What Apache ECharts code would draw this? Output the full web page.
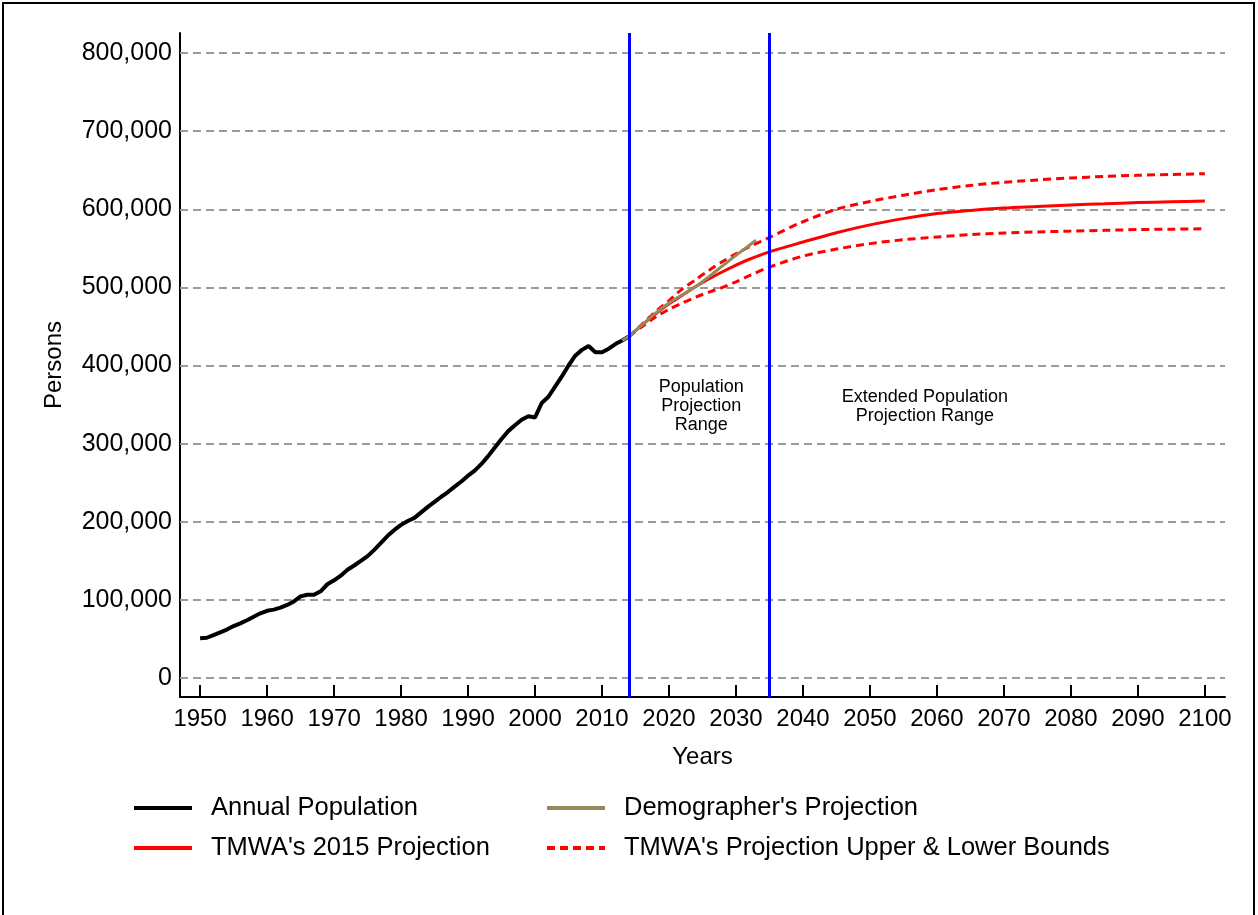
<!DOCTYPE html>
<html>
<head>
<meta charset="utf-8">
<script src="https://cdn.jsdelivr.net/npm/echarts@6/dist/echarts.min.js"></script>
<style>
  html, body { margin: 0; padding: 0; background: #fff; }
  #chart { width: 1258px; height: 915px; }
</style>
</head>
<body>
<div id="chart"></div>
<script>
// annual population, 1950 - 2014
const histYears = []
for (let y = 1950; y <= 2014; y++) histYears.push(y)
const histPop = [
  51000, 51500, 55000, 58500, 62000, 66500, 70000, 74000, 78500, 82800,
  86000, 87500, 90000, 93500, 98000, 104500, 106500, 106500, 111000, 120000,
  125000, 131000, 138500, 144000, 150000, 156000, 164000, 173000, 182000, 189500,
  196000, 201000, 205000, 212000, 219000, 225500, 232000, 238000, 245000, 251500,
  259000, 265500, 274000, 284000, 295000, 306000, 316000, 323500, 330500, 335000,
  333500, 352000, 360000, 373000, 386000, 400000, 412500, 420000, 425000, 417000,
  417000, 421500, 427500, 432000, 437000
]

// demographer's projection
const demoYears = [2013, 2014, 2016, 2018, 2020, 2022, 2024, 2026, 2028, 2030, 2032, 2033]
const demoPop = [432000, 437500, 452000, 467000, 480000, 490500, 501000, 514000, 527500, 541000, 554000, 560500]

// TMWA projection + bounds
const projYears = [2014, 2016, 2018, 2020, 2022, 2024, 2026, 2028, 2030, 2032, 2035, 2040, 2045,
  2050, 2055, 2060, 2065, 2070, 2075, 2080, 2085, 2090, 2095, 2100]
const tmwaPop = [437000, 452000, 466000, 479000, 490000, 501000, 511000, 520000, 528500, 536000,
  545500, 558000, 570000, 580000, 588000, 594500, 598500, 601500, 603500, 605500, 607000, 608500, 609500, 610500]
const upperPop = [437000, 453000, 469000, 483000, 498000, 510000, 522000, 533000, 543000, 552000,
  564000, 584000, 600000, 610000, 618000, 625000, 630500, 634500, 637500, 640000, 642000, 643500, 644500, 645500]
const lowerPop = [437000, 450000, 462000, 472000, 480000, 487500, 494000, 500000, 507000, 515000,
  526000, 540000, 549000, 556000, 561000, 564500, 567500, 569500, 571000, 572000, 573000, 574000, 574500, 575000]

// axes
const xTicks = []
for (let y = 1950; y <= 2100; y += 10) xTicks.push(y)
const yTicks = [0, 100000, 200000, 300000, 400000, 500000, 600000, 700000, 800000]
const rangeYears = [2014, 2035]

// annotations
const notes = [
  { text: 'Population\nProjection\nRange', year: 2024.8, value: 348000 },
  { text: 'Extended Population\nProjection Range', year: 2058.2, value: 347500 }
]

const zip = (xs, ys) => xs.map((x, i) => [x, ys[i]])
const FONT = 'Liberation Sans, Arial, sans-serif'

const chart = echarts.init(document.getElementById('chart'), null, { renderer: 'canvas' })

const redDash = { color: '#ff0000', width: 3, type: [8, 5] }

const legendBase = {
  orient: 'vertical',
  top: 795,
  padding: 0,
  itemWidth: 58,
  itemHeight: 14,
  itemGap: 14,
  itemStyle: { opacity: 0 },
  lineStyle: { width: 4 },
  textStyle: { fontSize: 25.5, color: '#000', fontFamily: FONT, padding: [0, 0, 0, 14] }
}

const option = {
  animation: false,
  backgroundColor: '#fff',
  textStyle: { fontFamily: FONT, color: '#000' },
  grid: { left: 180, top: 33, width: 1045, height: 664, outerBoundsMode: 'none' },
  xAxis: {
    type: 'value',
    min: 1947,
    max: 2103,
    name: 'Years',
    nameLocation: 'middle',
    nameGap: 48,
    nameTextStyle: { fontSize: 24, color: '#000', fontFamily: FONT },
    axisLine: { onZero: false, lineStyle: { color: '#000', width: 2 } },
    axisTick: { inside: true, length: 12, lineStyle: { color: '#000', width: 2 }, customValues: xTicks },
    axisLabel: {
      customValues: xTicks,
      fontSize: 24,
      color: '#000',
      margin: 10,
      fontFamily: FONT,
      formatter: (v) => String(v)
    },
    splitLine: { show: false }
  },
  yAxis: {
    type: 'value',
    min: -24320,
    max: 825600,
    name: 'Persons',
    nameLocation: 'middle',
    nameGap: 114,
    nameRotate: 90,
    nameTextStyle: { fontSize: 24, color: '#000', fontFamily: FONT },
    axisLine: { show: true, onZero: false, lineStyle: { color: '#000', width: 2 } },
    axisTick: { show: false },
    axisLabel: {
      customValues: yTicks,
      fontSize: 25,
      color: '#000',
      margin: 8,
      fontFamily: FONT,
      formatter: (v) => v.toLocaleString('en-US')
    },
    splitLine: { show: false }
  },
  legend: [
    Object.assign({}, legendBase, {
      left: 132,
      data: ['Annual Population', "TMWA's 2015 Projection"]
    }),
    Object.assign({}, legendBase, {
      left: 545,
      data: ["Demographer's Projection", "TMWA's Projection Upper & Lower Bounds"]
    })
  ],
  graphic: [
    {
      type: 'rect',
      shape: { x: 3, y: 3, width: 1251, height: 940 },
      style: { fill: 'none', stroke: '#000', lineWidth: 2 },
      silent: true
    }
  ],
  series: [
    {
      name: 'gridlines',
      type: 'line',
      data: [],
      silent: true,
      markLine: {
        z: 1,
        silent: true,
        symbol: 'none',
        label: { show: false },
        lineStyle: { color: '#9a9a9a', width: 2, type: [8, 5] },
        data: yTicks.map((v) => ({ yAxis: v }))
      }
    },
    {
      name: 'Annual Population',
      type: 'line',
      symbol: 'none',
      z: 3,
      lineStyle: { color: '#000', width: 4 },
      itemStyle: { color: '#000' },
      data: zip(histYears, histPop)
    },
    {
      name: "TMWA's Projection Upper & Lower Bounds",
      type: 'line',
      symbol: 'none',
      smooth: 0.3,
      z: 3,
      lineStyle: redDash,
      itemStyle: { color: '#ff0000' },
      data: zip(projYears, upperPop)
    },
    {
      name: "TMWA's Projection Upper & Lower Bounds",
      type: 'line',
      symbol: 'none',
      smooth: 0.3,
      z: 3,
      lineStyle: redDash,
      itemStyle: { color: '#ff0000' },
      data: zip(projYears, lowerPop)
    },
    {
      name: "TMWA's 2015 Projection",
      type: 'line',
      symbol: 'none',
      smooth: 0.3,
      z: 3,
      lineStyle: { color: '#ff0000', width: 3 },
      itemStyle: { color: '#ff0000' },
      data: zip(projYears, tmwaPop)
    },
    {
      name: "Demographer's Projection",
      type: 'line',
      symbol: 'none',
      smooth: 0.3,
      z: 4,
      lineStyle: { color: '#948b5c', width: 3 },
      itemStyle: { color: '#948b5c' },
      data: zip(demoYears, demoPop),
      markLine: {
        silent: true,
        symbol: 'none',
        label: { show: false },
        lineStyle: { color: '#0000ff', width: 3, type: 'solid' },
        data: rangeYears.map((y) => ({ xAxis: y }))
      },
      markPoint: {
        silent: true,
        symbol: 'circle',
        symbolSize: 0,
        label: {
          show: true,
          position: 'inside',
          fontSize: 18,
          lineHeight: 19,
          color: '#000',
          fontFamily: FONT,
          align: 'center',
          formatter: (p) => p.name
        },
        data: notes.map((n) => ({ name: n.text, coord: [n.year, n.value] }))
      }
    }
  ]
}

chart.setOption(option)
</script>
</body>
</html>
